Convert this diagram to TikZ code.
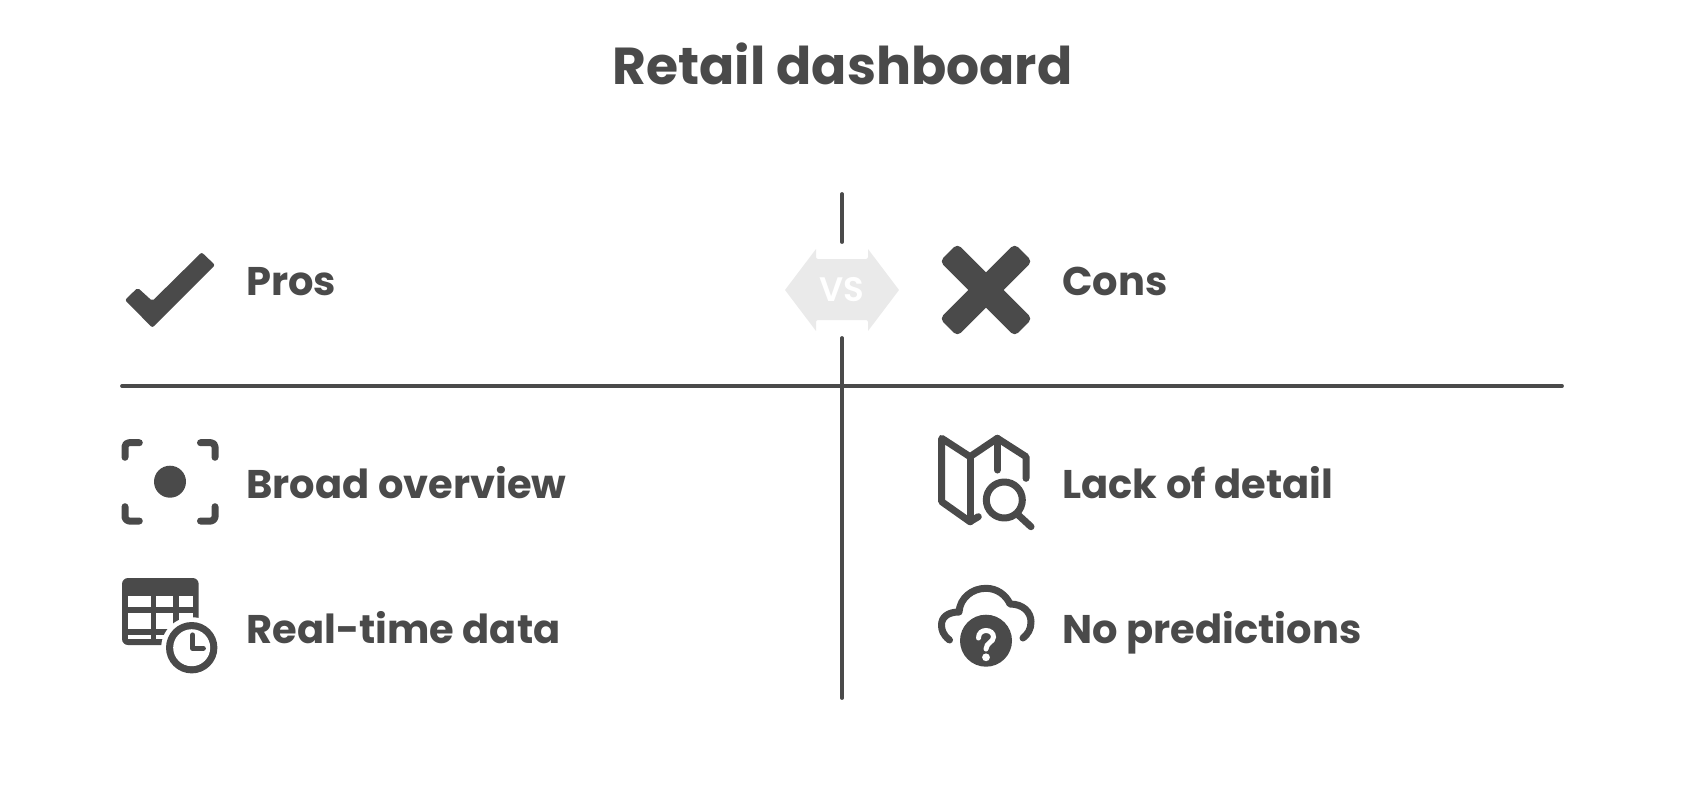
\documentclass[tikz,border=0pt]{standalone}
\usepackage{fontspec}
\setmainfont{Poppins}
\newfontfamily\badgefont{Poppins SemiBold}
\usetikzlibrary{positioning}
\definecolor{inkGray}{HTML}{4A4A4A}
\definecolor{badgeGray}{HTML}{EAEAEA}
\tikzstyle{titleText} = [font=\fontsize{26}{30}\selectfont\bfseries, text=inkGray, anchor=base, inner sep=0]
\tikzstyle{labelText} = [font=\fontsize{20}{24}\selectfont\bfseries, text=inkGray, anchor=base west, inner sep=0]
\tikzstyle{badgeText} = [font=\fontsize{17}{20}\selectfont\badgefont, text=white, inner sep=0]
\tikzstyle{rule} = [draw=inkGray, line width=1.9pt, line cap=round]
\tikzstyle{iconLine} = [draw=inkGray, line width=3.5pt, line cap=round, line join=round]
\tikzstyle{iconFill} = [fill=inkGray]
\begin{document}
\begin{tikzpicture}[x=0.5pt, y=-0.5pt]
    \useasboundingbox (0,0) rectangle (1684,797);
    \node (title) [titleText] at (842.5,84) {Retail dashboard};
    % divider lines
    \coordinate (midTop) at (842,194);
    \coordinate (midUp) at (842,242);
    \coordinate (midDown) at (842,338);
    \coordinate (midBottom) at (842,698);
    \coordinate (ruleLeft) at (122,386);
    \coordinate (ruleRight) at (1562,386);
    \draw [rule] (midTop) -- (midUp);
    \draw [rule] (midDown) -- (midBottom);
    \draw [rule] (ruleLeft) -- (ruleRight);
    % vs badge
    \fill [badgeGray] (785,290) -- (816,249) -- (816,257) [rounded corners=1pt] -- (816,259) -- (868,259) [sharp corners] -- (868,249) -- (899,290) -- (868,331) -- (868,322) [rounded corners=1pt] -- (868,320) -- (816,320) [sharp corners] -- (816,331) -- cycle;
    \node (vs) [badgeText] at (842,290) {VS};
    % labels
    \node (pros) [labelText] at (246,295) {Pros};
    \node (cons) [labelText] at (1062,295) {Cons};
    \node (overview) [labelText] at (246,498) {Broad overview};
    \node (detail) [labelText] at (1062,498) {Lack of detail};
    \node (realtime) [labelText] at (246,643) {Real-time data};
    \node (predict) [labelText] at (1062,643) {No predictions};
    % check icon
    \fill [iconFill, rounded corners=1pt] (125,300) -- (137.7,287.7) -- (152.3,301) -- (201.7,252.3) -- (215,265) -- (152.3,327.7) -- cycle;
    % cross icon
    \foreach \ang in {45,-45} {
        \fill [iconFill, rounded corners=2.5pt, shift={(986,290)}, rotate=\ang] (-53,-12.5) rectangle (53,12.5);
    }
    % focus icon
    \fill [iconFill] (170,481.7) circle (16);
    \draw [iconLine, rounded corners=2pt] (125,457.3) -- (125,442.7) -- (139.3,442.7);
    \draw [iconLine, rounded corners=2pt] (200.5,442.7) -- (215,442.7) -- (215,457.3);
    \draw [iconLine, rounded corners=2pt] (125,506.7) -- (125,521) -- (139.3,521);
    \draw [iconLine, rounded corners=2pt] (215,506.7) -- (215,521) -- (200.5,521);
    % table icon
    \fill [iconFill, rounded corners=3pt] (122,578) rectangle (198.7,645);
    \foreach \xa/\xb in {128/151, 156.3/173, 178.7/193} {
        \foreach \ya/\yb in {596/606.7, 612.7/629.3, 635/639.3} {
            \fill [white] (\xa,\ya) rectangle (\xb,\yb);
        }
    }
    \fill [white] (191.7,647.7) circle (30.5);
    \fill [iconFill] (191.7,647.7) circle (25.7);
    \fill [white] (191.7,647.7) circle (18.5);
    \draw [iconLine, line width=2.6pt] (192.7,635) -- (192.7,648.3) -- (203.3,648.3);
    % map icon
    \draw [iconLine] (978.3,516.7) -- (970,521.7) -- (941.7,501.7) -- (941.7,438.3) -- (970,456.7) -- (997.3,438.3) -- (1026,456.7) -- (1026,478.3);
    \draw [iconLine] (970,456.7) -- (970,521.7);
    \draw [iconLine] (997.3,438.3) -- (997.3,470);
    \draw [iconLine] (1004.3,500) circle (18);
    \draw [iconLine] (1018.3,515) -- (1031,526.7);
    % cloud icon
    \draw [iconLine] (949.5,640) .. controls (943,635) and (941.5,630) .. (941.5,625) .. controls (941.5,617) and (948,612) .. (959,612) .. controls (960,598) and (972,588.3) .. (986,588.3) .. controls (997,588.3) and (1006,595) .. (1010,604) .. controls (1023,604) and (1031,612) .. (1031,622) .. controls (1031,629) and (1028,634) .. (1023,638);
    \fill [iconFill] (986,640.7) circle (26);
    \draw [draw=white, line width=2.5pt, line cap=round] (978.5,638) .. controls (978.5,633) and (982,630.5) .. (986,630.5) .. controls (990,630.5) and (993.5,633) .. (993.5,637) .. controls (993.5,642) and (986,643) .. (986,649);
    \fill [white] (986,657.3) circle (3.9);
\end{tikzpicture}
\end{document}
